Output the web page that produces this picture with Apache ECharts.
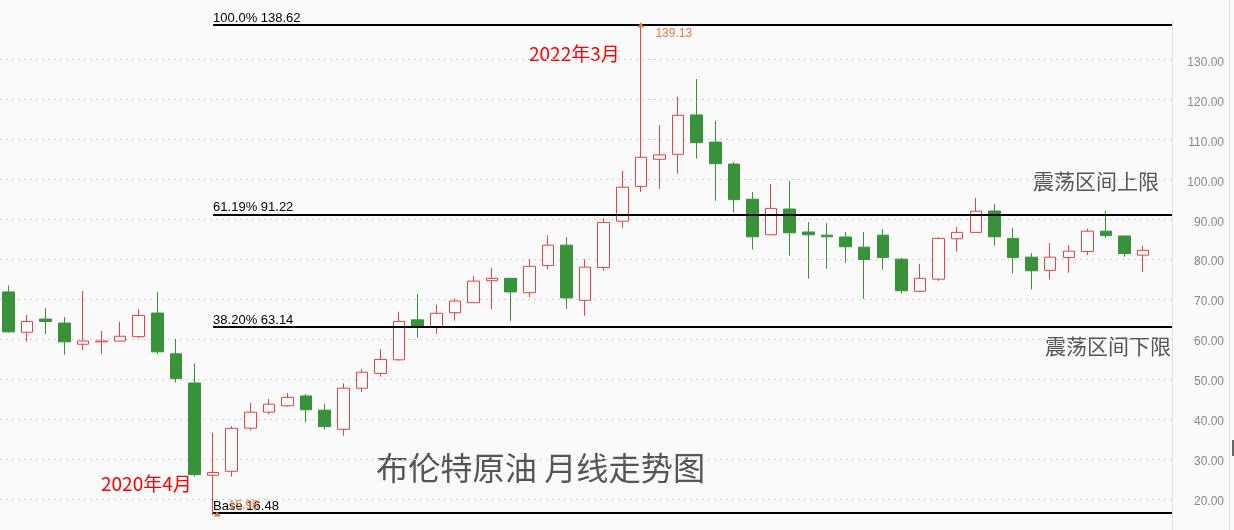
<!DOCTYPE html>
<html>
<head>
<meta charset="utf-8">
<script src="https://cdn.jsdelivr.net/npm/echarts@6/dist/echarts.min.js"></script>
<style>
html,body{margin:0;padding:0;background:#fafafa;}
#chart{width:1234px;height:530px;}
</style>
</head>
<body>
<div id="chart"></div>
<script>
// ---- data (monthly Brent crude) ----
const months = [
 '2019-05','2019-06','2019-07','2019-08','2019-09','2019-10','2019-11','2019-12',
 '2020-01','2020-02','2020-03','2020-04','2020-05','2020-06','2020-07','2020-08','2020-09','2020-10','2020-11','2020-12',
 '2021-01','2021-02','2021-03','2021-04','2021-05','2021-06','2021-07','2021-08','2021-09','2021-10','2021-11','2021-12',
 '2022-01','2022-02','2022-03','2022-04','2022-05','2022-06','2022-07','2022-08','2022-09','2022-10','2022-11','2022-12',
 '2023-01','2023-02','2023-03','2023-04','2023-05','2023-06','2023-07','2023-08','2023-09','2023-10','2023-11','2023-12',
 '2024-01','2024-02','2024-03','2024-04','2024-05','2024-06'
];
const openV = [
 71.8,61.7,65.0,64.0,58.7,59.3,59.5,60.6,
 66.5,56.3,49.0,25.9,26.9,37.7,41.7,43.3,45.75,42.2,37.4,47.7,
 51.4,54.8,64.8,63.1,66.6,69.1,74.6,75.2,71.6,78.4,83.5,69.7,
 77.9,89.5,98.2,105.0,106.25,116.1,109.3,103.8,95.0,86.1,92.55,86.8,
 86.0,85.55,83.0,86.0,80.0,71.95,75.0,85.1,86.7,92.05,85.2,80.5,
 77.2,80.4,81.9,87.0,85.8,81.0
];
const closeV = [
 61.8,64.4,64.4,59.3,59.5,59.5,60.7,65.9,
 56.8,50.1,26.05,26.6,37.65,41.7,43.7,45.4,42.3,38.1,47.7,51.7,
 54.9,64.4,63.1,66.45,69.5,74.5,75.2,71.8,78.2,83.5,70.3,78.0,
 89.2,98.0,105.5,106.1,116.0,109.15,103.9,94.9,85.6,92.7,86.6,86.1,
 85.6,83.1,79.9,80.4,72.1,75.2,85.2,86.7,92.0,85.6,80.4,77.1,
 80.5,82.0,87.0,85.9,81.4,82.2
];
const lowV = [
 61.6,59.3,61.2,56.1,57.3,56.3,59.4,60.3,
 56.2,49.1,25.55,15.98,25.55,37.1,41.2,43.1,39.2,37.3,35.8,46.8,
 50.6,54.6,60.3,61.3,64.6,69.0,67.5,64.5,70.5,77.5,67.5,65.85,
 77.1,87.8,96.8,97.6,101.4,105.15,94.6,91.7,82.4,86.0,80.9,75.1,
 77.6,79.1,70.1,77.4,71.4,71.7,74.6,81.9,86.6,83.4,76.5,72.4,
 74.9,76.6,81.0,85.3,80.6,76.8
];
const highV = [
 73.4,66.0,67.8,65.5,72.0,62.0,64.3,67.5,
 71.8,60.0,53.9,36.6,38.2,44.0,45.0,46.5,46.25,43.8,48.9,52.4,
 57.5,66.8,71.3,68.5,70.2,75.8,77.8,75.3,80.0,86.0,85.5,80.0,
 90.3,102.1,139.13,113.6,120.6,125.1,114.6,104.3,96.8,98.8,99.6,89.3,
 89.0,86.8,86.8,87.55,80.3,78.8,85.5,88.05,95.3,93.8,87.8,81.5,
 84.0,83.5,87.6,92.1,85.9,83.4
];
// Fibonacci retracement levels
const fibNames = ['100.0%','61.19%','38.20%','Base'];
const fibValues = [138.62, 91.22, 63.14, 16.48];
const fibStartMonth = '2020-04';
const yTicks = [10,20,30,40,50,60,70,80,90,100,110,120,130,140];
const titleText = '布伦特原油 月线走势图';
const noteTexts = ['震荡区间上限','震荡区间下限','2022年3月','2020年4月'];

// ---- layout / style ----
const BG = '#fafafa';
const RED = '#e84343';
const GREEN = '#38923a';
const ORANGE = '#f0783c';
const X_MIN = -0.457, X_MAX = 62.55;

const candleData = months.map((m, i) => [i, openV[i], closeV[i], lowV[i], highV[i]]);
const hiIdx = highV.indexOf(Math.max(...highV));
const loIdx = lowV.indexOf(Math.min(...lowV));
const fibStart = months.indexOf(fibStartMonth);

const splitColors = yTicks.map((v, i) => (i === 0 || i === yTicks.length - 1) ? 'rgba(0,0,0,0)' : '#cfcfcf');

const chart = echarts.init(document.getElementById('chart'), null, {renderer: 'canvas'});
const option = {
  backgroundColor: BG,
  animation: false,
  grid: {left: 0, right: 62, top: 19.45, height: 519.35, outerBoundsMode: 'none', containLabel: false},
  xAxis: {type: 'value', min: X_MIN, max: X_MAX, show: false, splitLine: {show: false}},
  yAxis: {
    type: 'value', position: 'right', min: yTicks[0], max: yTicks[yTicks.length - 1], interval: 10,
    axisLine: {show: true, onZero: false, lineStyle: {color: '#e2e2e2', width: 1}},
    axisTick: {show: false},
    axisLabel: {
      showMinLabel: false, showMaxLabel: false,
      formatter: v => '{v|' + v.toFixed(2) + '}',
      align: 'right', margin: 52,
      rich: {v: {color: '#888', fontSize: 12, fontFamily: 'Liberation Sans, Arial, sans-serif', lineHeight: 18, verticalAlign: 'bottom'}}
    },
    splitLine: {show: true, lineStyle: {color: splitColors, type: [2, 4], width: 1}}
  },
  series: [{
    type: 'candlestick',
    data: candleData,
    barWidth: 12,
    itemStyle: {color: BG, color0: GREEN, borderColor: RED, borderColor0: GREEN, borderWidth: 1},
    markLine: {
      silent: true,
      symbol: ['none', 'none'],
      lineStyle: {color: '#000', width: 2, type: 'solid'},
      label: {
        show: true, position: 'insideStartTop', formatter: '{b}', distance: [0, 0],
        color: '#000', fontSize: 13, fontFamily: 'Liberation Sans, Arial, sans-serif'
      },
      data: fibValues.map((v, i) => [
        {name: fibNames[i] + ' ' + v.toFixed(2), coord: [fibStart, v]},
        {coord: [X_MAX, v]}
      ])
    },
    markPoint: {
      silent: true,
      symbol: 'triangle',
      symbolSize: [7, 5],
      itemStyle: {color: ORANGE},
      label: {
        show: true, color: ORANGE, fontSize: 12,
        fontFamily: 'Liberation Sans, Arial, sans-serif', formatter: p => p.value
      },
      data: [
        {coord: [hiIdx, highV[hiIdx]], value: highV[hiIdx].toFixed(2), symbolOffset: [0, 2], label: {position: [18, 5]}},
        {coord: [loIdx, lowV[loIdx]], value: lowV[loIdx].toFixed(2), symbolOffset: [4, -1], label: {position: [15, -12]}}
      ]
    }
  }],
  graphic: [
    {type: 'text', left: 376, top: 452, style: {text: titleText, fill: '#555', fontSize: 32.2, fontFamily: 'Noto Sans CJK SC'}},
    {type: 'text', left: 1033, top: 171, style: {text: noteTexts[0], fill: '#555', fontSize: 21, fontFamily: 'Noto Sans CJK SC'}},
    {type: 'text', left: 1045, top: 336, style: {text: noteTexts[1], fill: '#555', fontSize: 21, fontFamily: 'Noto Sans CJK SC'}},
    {type: 'text', left: 529, top: 44, style: {text: noteTexts[2], fill: '#ff0000', fontSize: 19, fontFamily: 'Noto Sans CJK SC'}},
    {type: 'text', left: 101, top: 474, style: {text: noteTexts[3], fill: '#ff0000', fontSize: 19, fontFamily: 'Noto Sans CJK SC'}},
    {type: 'line', shape: {x1: 1229.5, y1: 0, x2: 1229.5, y2: 530}, style: {stroke: '#dcdcdc', lineWidth: 1}},
    {type: 'rect', shape: {x: 1232, y: 440, width: 2, height: 16}, style: {fill: '#666'}}
  ]
};
chart.setOption(option);
</script>
</body>
</html>
